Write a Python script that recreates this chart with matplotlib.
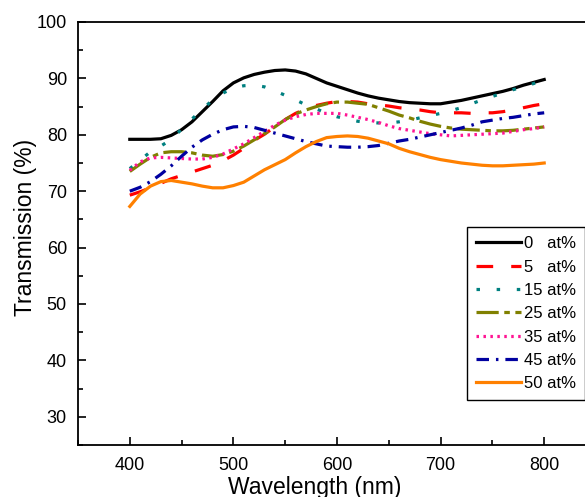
import numpy as np
import matplotlib
matplotlib.use('Agg')
from matplotlib import pyplot as plt
from matplotlib.ticker import MultipleLocator

plt.rcParams['font.family'] = ['Liberation Sans', 'DejaVu Sans']
plt.rcParams['lines.scale_dashes'] = False

#wavelength grid (nm) and transmission (%)
wavelength = [400, 410, 420, 430, 440, 450, 460, 470, 480, 490, 500,
              510, 520, 530, 540, 550, 560, 570, 580, 590, 600,
              610, 620, 630, 640, 650, 660, 670, 680, 690, 700,
              710, 720, 730, 740, 750, 760, 770, 780, 790, 800]
t_0 = [79.2, 79.2, 79.2, 79.3, 79.9, 80.9, 82.3, 84.1, 85.9, 87.8, 89.2,
       90.1, 90.7, 91.1, 91.4, 91.5, 91.3, 90.8, 90.0, 89.2, 88.6,
       88.0, 87.4, 86.9, 86.5, 86.2, 85.9, 85.7, 85.6, 85.5, 85.5,
       85.8, 86.1, 86.5, 86.9, 87.3, 87.7, 88.2, 88.8, 89.3, 89.8]
t_5 = [69.3, 69.9, 70.6, 71.4, 72.2, 72.8, 73.4, 74.0, 74.6, 75.4, 76.4,
       77.6, 79.0, 80.1, 81.4, 82.7, 83.8, 84.6, 85.2, 85.6, 85.9,
       85.9, 85.8, 85.5, 85.3, 85.1, 84.8, 84.6, 84.4, 84.1, 83.9,
       83.9, 83.9, 83.8, 83.9, 83.9, 84.1, 84.4, 84.8, 85.2, 85.5]
t_15 = [74.0, 75.5, 77.0, 78.0, 79.2, 81.0, 82.8, 84.5, 86.2, 87.4, 88.3,
        88.7, 88.8, 88.5, 87.8, 87.0, 86.2, 85.3, 84.6, 83.8, 83.2,
        82.8, 82.4, 82.2, 82.1, 82.1, 82.3, 82.6, 83.0, 83.4, 83.8,
        84.3, 84.8, 85.5, 86.2, 86.8, 87.4, 88.0, 88.5, 89.1, 89.6]
t_25 = [73.5, 74.8, 76.0, 76.8, 77.0, 77.0, 76.8, 76.4, 76.2, 76.5, 77.1,
        78.0, 79.1, 80.2, 81.4, 82.7, 83.7, 84.4, 85.0, 85.5, 85.8,
        85.8, 85.6, 85.4, 84.8, 84.2, 83.5, 83.0, 82.4, 81.9, 81.5,
        81.2, 81.0, 80.9, 80.8, 80.7, 80.7, 80.8, 81.0, 81.2, 81.4]
t_35 = [73.7, 75.2, 75.9, 76.0, 75.9, 75.8, 75.7, 75.7, 76.0, 76.6, 77.5,
        78.4, 79.5, 80.6, 81.7, 82.6, 83.2, 83.6, 83.8, 83.8, 83.8,
        83.5, 83.1, 82.7, 82.2, 81.6, 81.1, 80.8, 80.5, 80.2, 80.0,
        79.8, 79.9, 80.0, 80.1, 80.2, 80.3, 80.6, 80.9, 81.1, 81.4]
t_45 = [70.0, 70.7, 71.7, 73.0, 74.5, 76.2, 77.8, 79.1, 80.1, 80.9, 81.4,
        81.5, 81.3, 80.8, 80.3, 79.8, 79.3, 78.8, 78.4, 78.0, 77.9,
        77.8, 77.8, 77.9, 78.1, 78.5, 78.9, 79.2, 79.6, 80.0, 80.4,
        80.8, 81.2, 81.7, 82.3, 82.6, 82.9, 83.1, 83.4, 83.7, 83.9]
t_50 = [67.3, 69.5, 70.9, 71.7, 71.9, 71.6, 71.3, 70.9, 70.6, 70.6, 71.0,
        71.6, 72.7, 73.8, 74.7, 75.6, 76.8, 77.9, 78.8, 79.5, 79.7,
        79.8, 79.7, 79.4, 78.9, 78.4, 77.6, 77.0, 76.5, 76.0, 75.6,
        75.3, 75.0, 74.8, 74.6, 74.5, 74.5, 74.6, 74.7, 74.8, 75.0]

labels = ['0   at%', '5   at%', '15 at%', '25 at%', '35 at%', '45 at%', '50 at%']
series = [t_0, t_5, t_15, t_25, t_35, t_45, t_50]
colors = ['black', '#ff0000', '#008080', '#808000', '#ff1493', '#0000a0', '#ff8000']
#dash patterns in points (None = solid)
dashes = [None, (12, 13), (2.5, 12), (16, 4, 4, 4), (1.8, 3.2), (9, 5, 1.8, 5), None]

fig = plt.figure(figsize=(5.85, 4.97), dpi=100)
ax = fig.add_axes([78/585, 52/497, 518/585, 423/497])

for y, c, d, lab in zip(series, colors, dashes, labels):
    line, = ax.plot(wavelength, y, color=c, lw=2.3, label=lab)
    if d is not None:
        line.set_dashes(d)

ax.set_xlim(350, 850)
ax.set_ylim(25, 100)
ax.xaxis.set_minor_locator(MultipleLocator(50))
ax.yaxis.set_minor_locator(MultipleLocator(5))
ax.set_yticks([30, 40, 50, 60, 70, 80, 90, 100])
ax.set_xticks([400, 500, 600, 700, 800])
ax.tick_params(which='both', direction='in', labelsize=13, width=1.2)
ax.tick_params(which='major', length=6)
ax.tick_params(which='minor', length=3.5)
ax.tick_params(axis='y', which='major', pad=8)
ax.tick_params(axis='x', which='major', pad=9)
for s in ax.spines.values():
    s.set_linewidth(1.3)

ax.set_xlabel('Wavelength (nm)', fontsize=16.5)
ax.set_ylabel('Transmission (%)', fontsize=16.5)
ax.xaxis.set_label_coords(0.457, -0.073)
ax.yaxis.set_label_coords(-0.079, 0.514)

leg = fig.legend(loc='upper left', bbox_to_anchor=(467/585, 1 - 227/497),
                 fontsize=12, frameon=True, fancybox=False, framealpha=1,
                 edgecolor='black', handlelength=2.7, handletextpad=0.15,
                 labelspacing=0.5, borderpad=0.55, borderaxespad=0)
leg.get_frame().set_linewidth(1.0)

plt.savefig('out.png', dpi=100)
plt.close()
